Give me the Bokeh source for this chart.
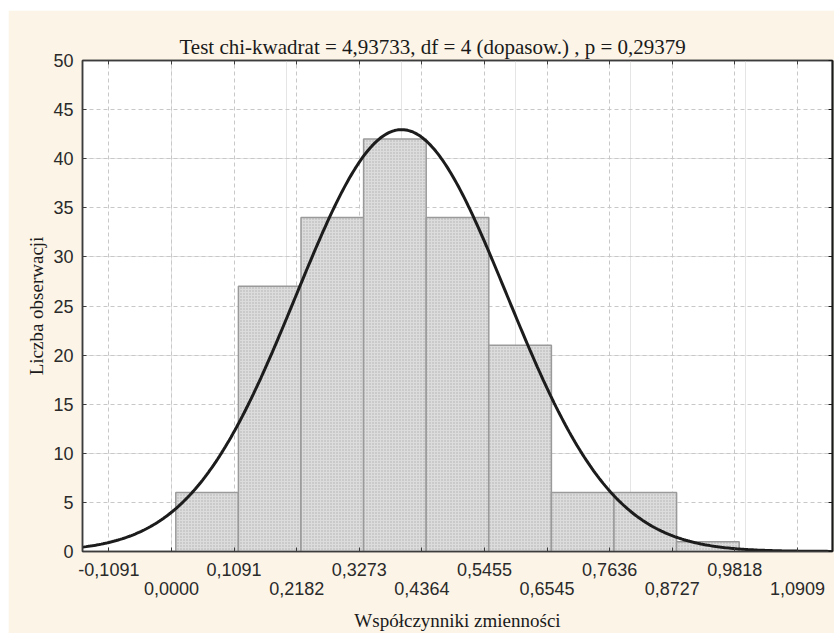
import numpy as np
from bokeh.plotting import figure
from bokeh.models import Range1d, LinearAxis, FixedTicker, Grid, ColumnDataSource
from bokeh.embed import file_html
from bokeh.resources import INLINE

# ---- data ----
counts = [6, 27, 34, 42, 34, 21, 6, 6, 1]
bin_edges = [0.0075, 0.1166, 0.2257, 0.3348, 0.4439, 0.5530, 0.6621, 0.7712, 0.8803, 0.9894]
x_ticks = [-0.1091, 0.0, 0.1091, 0.2182, 0.3273, 0.4364, 0.5455, 0.6545, 0.7636, 0.8727, 0.9818, 1.0909]
x_tick_labels = ["-0,1091", "0,0000", "0,1091", "0,2182", "0,3273", "0,4364",
                 "0,5455", "0,6545", "0,7636", "0,8727", "0,9818", "1,0909"]
y_ticks = [0, 5, 10, 15, 20, 25, 30, 35, 40, 45, 50]
fit_mean = 0.401
fit_sd = 0.184
fit_peak = 42.96
title_text = "Test chi-kwadrat = 4,93733, df = 4 (dopasow.) , p = 0,29379"
x_label = "Współczynniki zmienności"
y_label = "Liczba obserwacji"

BG = "#fbf4e7"
SANS = "Liberation Sans"
SERIF = "Liberation Serif"

p = figure(width=826, height=623, output_backend="svg", toolbar_location=None,
           x_range=Range1d(-0.1551, 1.1520), y_range=Range1d(0, 50),
           x_axis_location=None, y_axis_location=None,
           min_border_left=74, min_border_right=2, min_border_top=50, min_border_bottom=81)
p.margin = (10, 0, 0, 8)
p.border_fill_color = BG
p.background_fill_color = "white"
p.outline_line_color = "#3c3c3c"
p.outline_line_width = 1.5

# title
p.title.text = title_text
p.title.text_font = SERIF
p.title.text_font_size = "21px"
p.title.text_font_style = "normal"
p.title.text_color = "#1a1a1a"
p.title.align = "left"
p.title.offset = 97
p.title.vertical_align = "bottom"
p.title.text_line_height = 0.75
p.title.standoff = 4

# grids
p.add_layout(Grid(dimension=0, ticker=FixedTicker(ticks=x_ticks),
                  grid_line_color="#c8c8c8", grid_line_dash="4 3", grid_line_width=1))
p.add_layout(Grid(dimension=1, ticker=FixedTicker(ticks=y_ticks),
                  grid_line_color="#c8c8c8", grid_line_dash="4 3", grid_line_width=1))

# bars
src = ColumnDataSource(dict(left=bin_edges[:-1], right=bin_edges[1:], top=counts,
                            bottom=[0] * len(counts)))
p.quad(left="left", right="right", top="top", bottom="bottom", source=src,
       fill_color="#dcdcdc", line_color="#9a9a9a", line_width=1.5,
       hatch_pattern="dot", hatch_color="#aeaeae", hatch_scale=3, hatch_weight=1)

# fitted normal curve
xs = np.linspace(-0.1551, 1.1520, 400)
ys = fit_peak * np.exp(-0.5 * ((xs - fit_mean) / fit_sd) ** 2)
p.line(xs, ys, line_color="#1c1c1c", line_width=3)

even_ticks = x_ticks[0::2]
odd_ticks = x_ticks[1::2]
lab = dict(zip(x_ticks, x_tick_labels))

# bottom axis, first row of labels
ax1 = LinearAxis(ticker=FixedTicker(ticks=even_ticks, minor_ticks=odd_ticks),
                 major_label_overrides={t: lab[t] for t in even_ticks})
ax1.major_tick_in = 4
ax1.major_tick_out = 0
ax1.minor_tick_in = 4
ax1.minor_tick_out = 0
ax1.minor_tick_line_color = "#3c3c3c"
ax1.major_tick_line_color = "#3c3c3c"
ax1.axis_line_color = "#3c3c3c"
ax1.axis_line_width = 1.5
ax1.major_label_text_font = SANS
ax1.major_label_text_font_size = "18px"
ax1.major_label_text_color = "#2a2a2a"
ax1.major_label_standoff = 11
p.add_layout(ax1, "below")

# bottom axis, second row of labels
ax2 = LinearAxis(ticker=FixedTicker(ticks=odd_ticks, minor_ticks=[]),
                 major_label_overrides={t: lab[t] for t in odd_ticks})
ax2.major_tick_in = 0
ax2.major_tick_out = 0
ax2.axis_line_color = None
ax2.major_tick_line_color = None
ax2.major_label_text_font = SANS
ax2.major_label_text_font_size = "18px"
ax2.major_label_text_color = "#2a2a2a"
ax2.major_label_standoff = 3
ax2.axis_label = x_label
ax2.axis_label_text_font = SERIF
ax2.axis_label_text_font_size = "19px"
ax2.axis_label_text_font_style = "normal"
ax2.axis_label_text_color = "#1a1a1a"
ax2.axis_label_standoff = 12
p.add_layout(ax2, "below")

# left axis
ay = LinearAxis(ticker=FixedTicker(ticks=y_ticks))
ay.major_tick_in = 4
ay.major_tick_out = 0
ay.minor_tick_line_color = None
ay.major_tick_line_color = "#3c3c3c"
ay.axis_line_color = "#3c3c3c"
ay.axis_line_width = 1.5
ay.major_label_text_font = SANS
ay.major_label_text_font_size = "18px"
ay.major_label_text_color = "#2a2a2a"
ay.major_label_standoff = 9
ay.axis_label = y_label
ay.axis_label_text_font = SERIF
ay.axis_label_text_font_size = "19px"
ay.axis_label_text_font_style = "normal"
ay.axis_label_text_color = "#1a1a1a"
ay.axis_label_standoff = 3
p.add_layout(ay, "left")

# right and top axes: inward ticks only, labels not drawn
ar = LinearAxis(ticker=FixedTicker(ticks=y_ticks, minor_ticks=[]))
ar.major_tick_in = 4
ar.major_tick_out = 0
ar.major_tick_line_color = "#1a1a1a"
ar.axis_line_color = "#1a1a1a"
ar.axis_line_width = 2
ar.major_label_text_font_size = "1px"
ar.major_label_text_color = None
ar.major_label_standoff = 0
p.add_layout(ar, "right")

at = LinearAxis(ticker=FixedTicker(ticks=x_ticks, minor_ticks=[]))
at.major_tick_in = 4
at.major_tick_out = 0
at.major_tick_line_color = "#3c3c3c"
at.axis_line_color = "#3c3c3c"
at.axis_line_width = 1.5
at.major_label_text_font_size = "1px"
at.major_label_text_color = None
at.major_label_standoff = 0
p.add_layout(at, "above")

open("out.html", "w").write(file_html(p, INLINE))
